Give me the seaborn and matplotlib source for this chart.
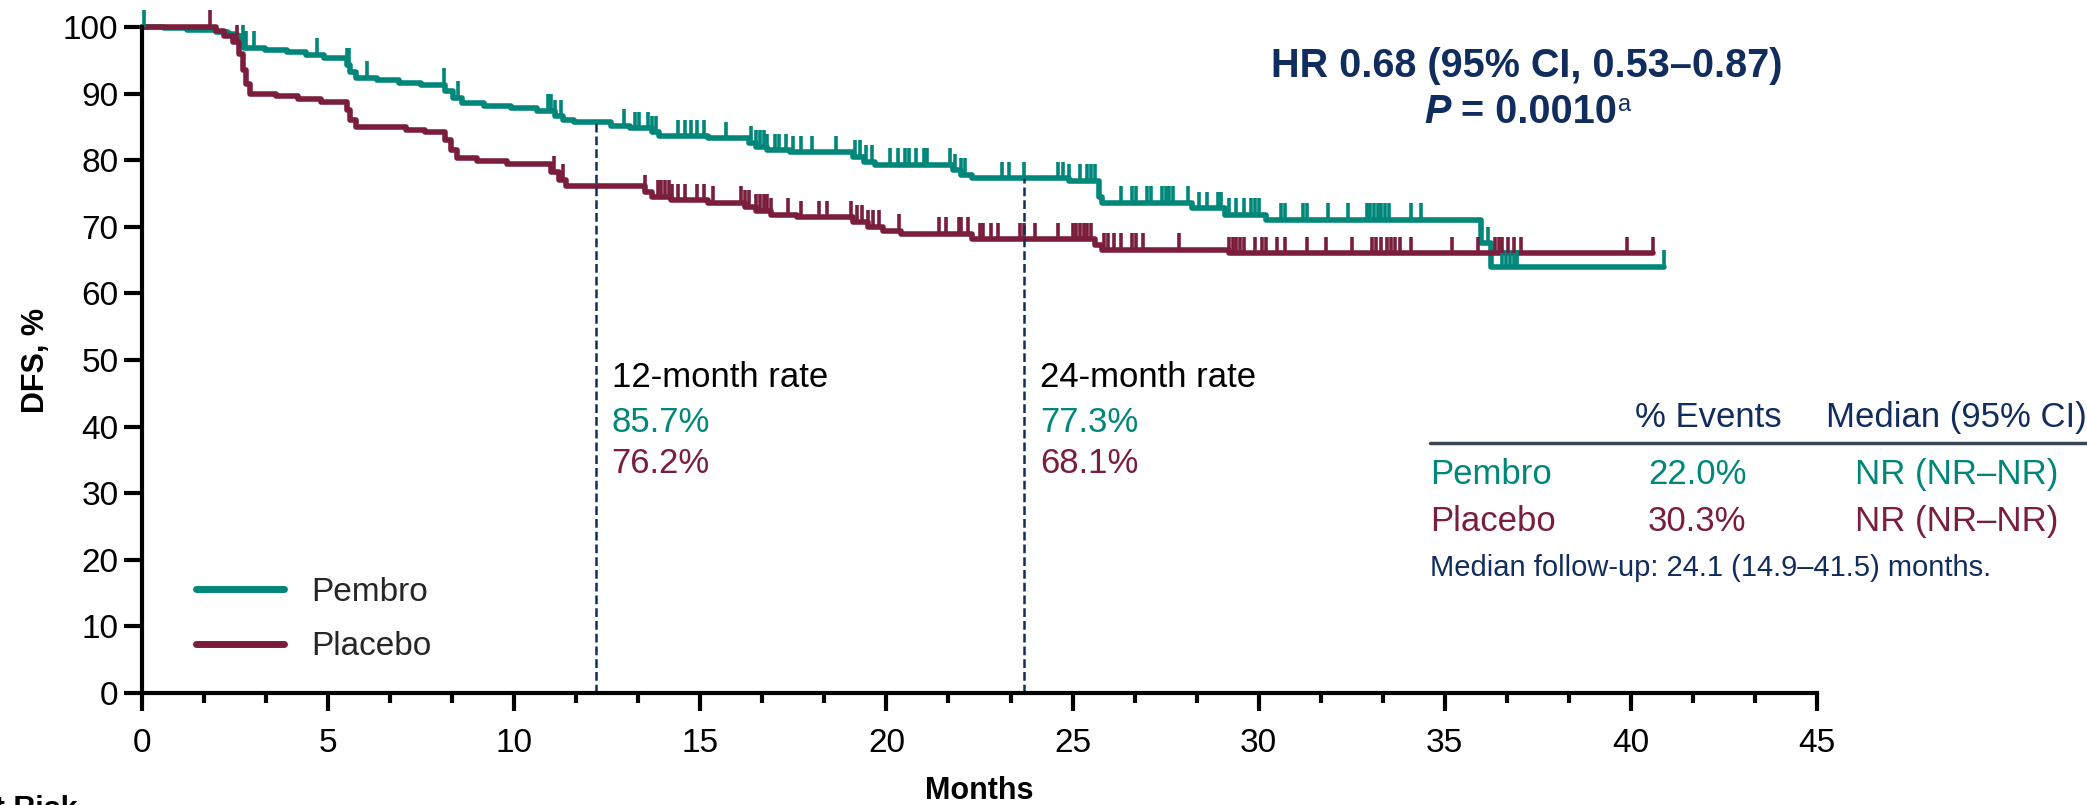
import numpy as np
import pandas as pd
import matplotlib
matplotlib.use("Agg")
import matplotlib.pyplot as plt
from matplotlib.lines import Line2D
from matplotlib.ticker import MultipleLocator
import seaborn as sns

# ---------------------------------------------------------------
# Kaplan-Meier data: month of each drop and DFS (%) right after it
# ---------------------------------------------------------------
pembro_t = [0.6, 1.2, 2.0, 2.3, 2.55, 2.65, 2.75, 3.3, 3.9, 4.4, 4.9, 5.5, 5.6, 5.75,
            6.3, 6.9, 7.5, 8.15, 8.35, 8.6, 9.2, 9.9, 10.6, 11.1, 11.3, 11.6, 12.6,
            13.1, 13.7, 13.9, 15.2, 16.3, 16.5, 16.8, 17.4, 19.1, 19.4, 19.7, 21.8,
            22.0, 22.3, 24.9, 25.7, 25.8, 28.2, 29.1, 30.2, 35.97, 36.25]
pembro_s = [99.8, 99.6, 99.3, 99.0, 98.6, 97.8, 96.9, 96.6, 96.2, 95.8, 95.4, 94.3,
            93.2, 92.4, 92.0, 91.6, 91.3, 90.4, 89.4, 88.6, 88.2, 87.8, 87.4, 86.6,
            86.0, 85.7, 85.2, 84.8, 84.2, 83.6, 83.3, 82.6, 82.0, 81.5, 81.2, 80.5,
            79.8, 79.3, 78.5, 77.8, 77.3, 76.9, 74.5, 73.6, 72.8, 71.8, 71.0, 67.5,
            64.0]
pembro_end = 40.9
pembro_cens = [0.05, 2.7, 2.75, 2.8, 3.0, 4.7, 5.5, 5.55, 6.05, 8.1, 8.5, 10.9, 11.0,
               11.1, 11.25, 12.95, 13.25, 13.35, 13.6, 13.7, 13.8, 14.4, 14.6, 14.75,
               14.9, 15.1, 15.7, 16.35, 16.5, 16.6, 16.7, 16.8, 17.0, 17.1, 17.3, 17.5,
               17.7, 18.0, 18.65, 19.15, 19.3, 19.45, 19.6, 20.1, 20.3, 20.5, 20.6,
               20.8, 21.0, 21.1, 21.7, 21.85, 22.0, 22.1, 23.1, 23.3, 23.7, 24.6,
               24.75, 24.9, 25.2, 25.4, 25.5, 25.6, 26.3, 26.6, 26.7, 27.0, 27.1,
               27.4, 27.5, 27.6, 27.7, 28.1, 28.4, 28.6, 28.9, 29.0, 29.2, 29.4, 29.6,
               29.8, 29.9, 30.0, 30.6, 30.7, 31.2, 31.3, 31.85, 32.4, 32.9, 33.0,
               33.1, 33.2, 33.3, 33.4, 33.5, 34.1, 34.35, 36.15, 36.55, 36.65, 36.75,
               36.85, 36.95, 40.9]

placebo_t = [2.0, 2.2, 2.45, 2.6, 2.7, 2.8, 2.9, 3.6, 4.2, 4.8, 5.5, 5.6, 5.75, 7.1,
             7.6, 8.15, 8.3, 8.45, 9.0, 9.8, 11.0, 11.2, 11.4, 13.5, 13.7, 14.2, 15.2,
             16.2, 16.5, 16.9, 17.6, 19.1, 19.5, 19.9, 20.4, 22.3, 25.6, 25.8, 29.2]
placebo_s = [99.4, 98.6, 97.8, 96.0, 93.5, 91.5, 90.0, 89.6, 89.2, 88.7, 87.5, 86.0,
             85.0, 84.6, 84.2, 83.0, 81.5, 80.4, 79.9, 79.4, 78.2, 77.0, 76.2, 75.3,
             74.5, 74.0, 73.6, 73.0, 72.4, 71.8, 71.4, 70.7, 70.0, 69.4, 68.9, 68.1,
             67.2, 66.5, 66.0]
placebo_end = 40.6
placebo_cens = [1.83, 2.55, 11.07, 11.3, 13.5, 13.85, 13.95, 14.05, 14.15, 14.25, 14.4,
                14.6, 14.9, 15.1, 15.35, 16.1, 16.2, 16.3, 16.5, 16.6, 16.7, 16.8,
                16.9, 17.35, 17.7, 18.2, 18.4, 19.05, 19.2, 19.35, 19.5, 19.65, 19.8,
                20.35, 21.4, 21.6, 21.95, 22.0, 22.2, 22.5, 22.6, 22.8, 23.0, 23.6,
                23.7, 24.0, 24.6, 25.0, 25.1, 25.2, 25.3, 25.4, 25.5, 25.85, 25.95,
                26.1, 26.3, 26.6, 26.7, 26.9, 27.85, 29.2, 29.3, 29.4, 29.5, 29.6,
                29.9, 30.1, 30.2, 30.5, 30.7, 31.3, 31.8, 32.5, 33.05, 33.15, 33.3,
                33.45, 33.55, 33.65, 33.8, 34.1, 35.2, 35.9, 36.35, 36.45, 36.55,
                36.7, 36.85, 37.05, 39.9, 40.6]

arms = ["Pembro", "Placebo"]
arm_colors = ["#00877A", "#7A1E3C"]
navy = "#112D5E"

# landmark rates
rate_months = [12.2, 23.7]
rate_labels = ["12-month rate", "24-month rate"]
rates_pembro = [85.7, 77.3]
rates_placebo = [76.2, 68.1]

x_ticks = np.arange(0, 46, 5)
y_ticks = np.arange(0, 101, 10)

hr_text = "HR 0.68 (95% CI, 0.53\u20130.87)"
p_value = "0.0010"
table_header = ["% Events", "Median (95% CI)"]
events_pct = ["22.0%", "30.3%"]
median_ci = ["NR (NR\u2013NR)", "NR (NR\u2013NR)"]
followup = "Median follow-up: 24.1 (14.9\u201341.5) months."

# ---------------------------------------------------------------
sns.set_theme(style="ticks")
plt.rcParams["font.family"] = ["Liberation Sans", "DejaVu Sans"]

W, H = 2087, 805
fig = plt.figure(figsize=(W / 100, H / 100), dpi=100)


def fx(px):
    return px / W


def fy(py):
    return 1 - py / H


ax = fig.add_axes([fx(142), fy(693), (1817 - 142) / W, (693 - 27) / H])


def curve_frame(name, t, s, end):
    times = np.concatenate([[0.0], t, [end]])
    surv = np.concatenate([[100.0], s, [s[-1]]])
    return pd.DataFrame({"time": times, "surv": surv, "arm": name})


df = pd.concat([curve_frame("Pembro", pembro_t, pembro_s, pembro_end),
                curve_frame("Placebo", placebo_t, placebo_s, placebo_end)],
               ignore_index=True)

sns.lineplot(data=df, x="time", y="surv", hue="arm", palette=dict(zip(arms, arm_colors)),
             estimator=None, sort=False, drawstyle="steps-post", linewidth=4.0,
             legend=False, ax=ax, clip_on=False)


def level_at(times, t, s):
    full_t = np.concatenate([[0.0], t])
    full_s = np.concatenate([[100.0], s])
    idx = np.searchsorted(full_t, times, side="right") - 1
    return full_s[idx]


# censoring marks: short upward ticks from the curve
for t, s, cens, col in [(pembro_t, pembro_s, pembro_cens, arm_colors[0]),
                        (placebo_t, placebo_s, placebo_cens, arm_colors[1])]:
    lv = level_at(np.array(cens), np.array(t), np.array(s))
    ax.vlines(cens, lv, lv + 2.5, color=col, linewidth=2.6, clip_on=False)

# landmark lines and their labels
for m, lab, rp, rc in zip(rate_months, rate_labels, rates_pembro, rates_placebo):
    ax.vlines(m, 0, rp, color=navy, linewidth=1.8, linestyles=(0, (3.5, 1.6)))
    ax.text(m + 0.42, 45.9, lab, fontsize=25, color="black", va="baseline")
    ax.text(m + 0.42, 39.2, f"{rp}%", fontsize=25, color=arm_colors[0], va="baseline")
    ax.text(m + 0.42, 33.0, f"{rc}%", fontsize=25, color=arm_colors[1], va="baseline")

# axes styling
ax.set_xlim(0, 45)
ax.set_ylim(0, 100)
ax.set_xticks(x_ticks)
ax.set_yticks(y_ticks)
ax.xaxis.set_minor_locator(MultipleLocator(5 / 3))
for side in ["top", "right"]:
    ax.spines[side].set_visible(False)
for side in ["left", "bottom"]:
    ax.spines[side].set_linewidth(3.0)
    ax.spines[side].set_color("black")
ax.tick_params(axis="both", which="major", length=13, width=3, labelsize=24,
               colors="black")
ax.tick_params(axis="x", which="minor", length=7, width=3, colors="black")
ax.tick_params(axis="x", which="major", pad=12)
ax.tick_params(axis="y", which="major", pad=4)
ax.tick_params(axis="y", which="minor", length=0)

ax.set_xlabel("Months", fontsize=22, fontweight="bold", color="black")
ax.xaxis.set_label_coords(0.5, -0.124)
ax.set_ylabel("DFS, %", fontsize=22, fontweight="bold", color="black", va="center")
ax.yaxis.set_label_coords(-0.0633, 0.5)

# legend
handles = [Line2D([0], [0], color=c, lw=5) for c in arm_colors]
ax.legend(handles, arms, loc="upper left", bbox_to_anchor=(fx(196), fy(577)),
          bbox_transform=fig.transFigure, frameon=False, fontsize=24,
          handlelength=2.65, handletextpad=0.8, labelspacing=0.7,
          borderpad=0, borderaxespad=0)

# hazard ratio block
fig.text(fx(1527), fy(77), hr_text, fontsize=28.5, fontweight="bold", color=navy,
         ha="center", va="baseline")
renderer = fig.canvas.get_renderer()
p1 = fig.text(0, 0, "P", fontsize=28.5, fontweight="bold", fontstyle="italic",
              color=navy, va="baseline")
p2 = fig.text(0, 0, " = " + p_value, fontsize=28.5, fontweight="bold", color=navy,
              va="baseline")
p3 = fig.text(0, 0, "a", fontsize=17, color=navy, va="baseline")
w1 = p1.get_window_extent(renderer).width
w2 = p2.get_window_extent(renderer).width
w3 = p3.get_window_extent(renderer).width
left = 1527 - (w1 + w2 + w3) / 2
p1.set_position((fx(left), fy(123)))
p2.set_position((fx(left + w1), fy(123)))
p3.set_position((fx(left + w1 + w2 + 1), fy(111)))

# summary table
fig.text(fx(1635), fy(427), table_header[0], fontsize=25, color=navy, va="baseline")
fig.text(fx(1826), fy(427), table_header[1], fontsize=25, color=navy, va="baseline")
fig.add_artist(Line2D([fx(1430), 1.0], [fy(443), fy(443)], transform=fig.transFigure,
                      color="#3B4656", lw=2.5))
for i, (arm, col) in enumerate(zip(arms, arm_colors)):
    yb = 484 + i * 47
    fig.text(fx(1430), fy(yb), arm, fontsize=25, color=col, va="baseline")
    fig.text(fx(1648), fy(yb), events_pct[i], fontsize=25, color=col, va="baseline")
    fig.text(fx(1855), fy(yb), median_ci[i], fontsize=25, color=col, va="baseline")
fig.text(fx(1430), fy(576), followup, fontsize=21, color=navy, va="baseline")

# number-at-risk heading below the axis
fig.text(fx(78), fy(795), "No. at Risk", fontsize=22, fontweight="bold",
         color="black", ha="right", va="top")

fig.savefig("out.png", dpi=100)
